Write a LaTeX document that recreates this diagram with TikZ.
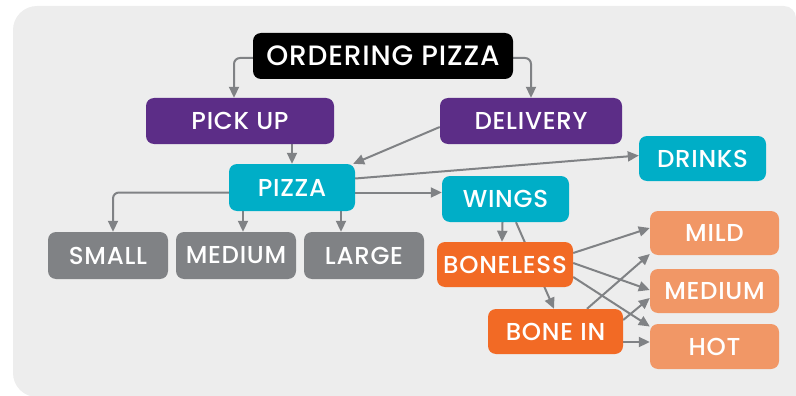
\documentclass[tikz,border=0pt]{standalone}
\usepackage{fontspec}
\setmainfont{Poppins}[UprightFont=* Medium, LetterSpace=3]
\usetikzlibrary{arrows.meta}
\definecolor{bggray}{HTML}{EDEDED}
\definecolor{cblack}{HTML}{000000}
\definecolor{cpurple}{HTML}{5C2D87}
\definecolor{cteal}{HTML}{00AEC7}
\definecolor{cgray}{HTML}{808285}
\definecolor{corange}{HTML}{F26A25}
\definecolor{clight}{HTML}{F19766}
\definecolor{carrow}{HTML}{808285}
\pgfdeclarelayer{bglayer}
\pgfdeclarelayer{edgelayer}
\pgfsetlayers{bglayer,edgelayer,main}
\tikzset{
  box/.style={rounded corners=8pt, inner sep=0pt, text=white, font=\fontsize{24.5}{26}\selectfont, minimum height=46pt},
  arr/.style={draw=carrow, line width=2pt, -{Triangle[length=11pt,width=10pt]}},
}
\begin{document}
\begin{tikzpicture}[x=1pt,y=-1pt]
\useasboundingbox (0,0) rectangle (796,396);
\begin{pgfonlayer}{bglayer}
\fill[bggray] (13,373) -- (13,30) arc[start angle=180,end angle=270,radius=24] -- (784,6) arc[start angle=270,end angle=360,radius=12] -- (796,397) -- (37,397) arc[start angle=90,end angle=180,radius=24] -- cycle;
\end{pgfonlayer}
\node[box, fill=cblack, minimum width=260pt, font=\fontsize{28}{30}\selectfont] (op) at (383,56) {ORDERING PIZZA};
\node[box, fill=cpurple, minimum width=188pt] (pu) at (240,121) {PICK UP};
\node[box, fill=cpurple, minimum width=182pt] (de) at (531,121) {DELIVERY};
\node[box, fill=cteal, minimum width=126pt, minimum height=47pt] (pz) at (292,187.5) {PIZZA};
\node[box, fill=cteal, minimum width=127pt, minimum height=45pt] (dr) at (702.5,158.5) {DRINKS};
\node[box, fill=cteal, minimum width=127pt] (wi) at (505.5,199) {WINGS};
\node[box, fill=cgray, minimum width=120pt, minimum height=47pt] (sm) at (108,255.5) {SMALL};
\node[box, fill=cgray, minimum width=120pt, minimum height=47pt] (me) at (236,255.5) {MEDIUM};
\node[box, fill=cgray, minimum width=120pt, minimum height=47pt] (la) at (364,255.5) {LARGE};
\node[box, fill=corange, minimum width=136pt, minimum height=45pt] (bl) at (505,264.5) {BONELESS};
\node[box, fill=corange, minimum width=135pt, minimum height=45pt] (bi) at (555.5,331.5) {BONE IN};
\node[box, fill=clight, minimum width=129pt, minimum height=44pt] (mi) at (714.5,233) {MILD};
\node[box, fill=clight, minimum width=129pt, minimum height=44pt] (mm) at (714.5,291) {MEDIUM};
\node[box, fill=clight, minimum width=129pt, minimum height=45pt] (ho) at (714.5,346.5) {HOT};
\begin{pgfonlayer}{edgelayer}
\draw[arr, rounded corners=6pt] ([yshift=-2pt]op.west) -| ([xshift=-6pt]pu.north);
\draw[arr, rounded corners=6pt] ([yshift=-2pt]op.east) -| (de.north);
\draw[arr] (pz.north |- pu.south) -- (pz.north);
\draw[arr] ([yshift=-6pt]de.west) -- ([xshift=-2pt]pz.north east);
\draw[arr] ([yshift=9pt]pz.east) -- ([yshift=3pt]dr.west);
\draw[arr] ([yshift=-5pt]pz.east) -- ([yshift=-5pt]pz.east -| wi.west);
\draw[arr, rounded corners=6pt] ([yshift=-5pt]pz.west) -| ([xshift=5pt]sm.north);
\draw[arr] ([xshift=-49pt]pz.south) -- ([xshift=7pt]me.north);
\draw[arr] ([xshift=49pt]pz.south) -- ([xshift=-23pt]la.north);
\draw[arr] ([xshift=-3pt]wi.south) -- ([xshift=-3pt]bl.north);
\draw[arr] ([xshift=10.5pt]wi.south) -- ([xshift=-1.5pt]bi.north);
\draw[arr] ([yshift=11.5pt]bl.east) -- ([yshift=5pt]mi.west);
\draw[arr] ([yshift=1.5pt]bl.east) -- ([yshift=1pt]mm.west);
\draw[arr] ([yshift=-12.5pt]bl.east) -- ([yshift=20pt]ho.west);
\draw[arr] ([xshift=31.5pt]bi.north) -- ([yshift=-21pt]mi.west);
\draw[arr] ([yshift=11.5pt]bi.east) -- ([yshift=-7pt]mm.west);
\draw[arr] ([yshift=-10.5pt]bi.east) -- ([yshift=-10.5pt]bi.east -| ho.west);
\end{pgfonlayer}
\end{tikzpicture}
\end{document}
